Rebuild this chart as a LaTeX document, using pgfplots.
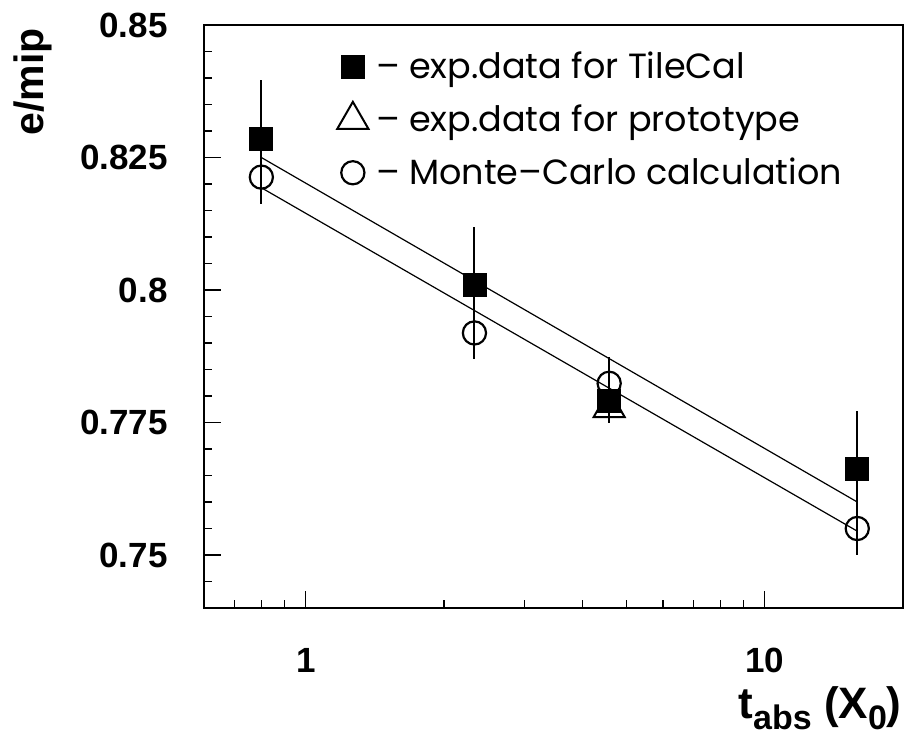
\documentclass[border=0pt]{standalone}
\usepackage{fontspec}
\setmainfont{Liberation Sans}
\newfontfamily\legfont{Poppins}
\usepackage{pgfplots}
\pgfplotsset{compat=1.18}

\begin{document}
\begin{tikzpicture}
\begin{axis}[
    name=ax,
    xmode=log,
    width=349.5pt, height=291.5pt, scale only axis,
    xmin=0.6, xmax=20, ymin=0.74, ymax=0.85,
    xtick={1,10}, xticklabels={1,10},
    minor xtick={0.7,0.8,0.9,2,3,4,5,6,7,8,9,20},
    ytick={0.75,0.775,0.8,0.825,0.85},
    yticklabels={0.75,0.775,0.8,0.825,0.85},
    minor ytick={0.745,0.755,0.76,0.765,0.77,0.78,0.785,0.79,0.795,0.805,0.81,0.815,0.82,0.83,0.835,0.84,0.845},
    tick pos=left, tick align=inside,
    major tick length=8.5pt, minor tick length=4pt,
    every tick/.style={black, line width=0.6pt},
    axis line style={line width=1.2pt},
    ticklabel style={font=\fontsize{17.5}{20}\selectfont\bfseries},
    yticklabel style={inner sep=0pt, xshift=-18pt},
    xticklabel style={anchor=base, inner sep=0pt, yshift=-32pt},
    ylabel={e/mip},
    ylabel style={at={(rel axis cs:-0.2303,0.995)}, anchor=base east, inner sep=0pt, font=\fontsize{20.5}{24}\selectfont\bfseries},
    xlabel={t\raisebox{-0.24em}{\fontsize{17}{17}\selectfont abs} (X\raisebox{-0.24em}{\fontsize{17}{17}\selectfont 0})},
    xlabel style={at={(rel axis cs:0.9986,-0.19)}, anchor=base east, inner sep=0pt, font=\fontsize{22}{24}\selectfont\bfseries},
    legend style={draw=none, fill=none, at={(0.1874,0.962)}, anchor=north west,
        inner sep=0pt, row sep=7.5pt, column sep=0pt,
        font=\legfont\fontsize{17.5}{20}\selectfont,
        nodes={inner sep=0pt, text height=12pt, text depth=3.5pt}},
    legend cell align=left,
    legend image code/.code={\path (0cm,-6pt) (0.6cm,11pt); \draw[#1] plot coordinates {(0.3cm,1.5pt)};},
]
% fitted lines
\addplot[black, line width=0.6pt, forget plot] coordinates {(0.8,0.825) (15.9,0.7600)};
\addplot[black, line width=0.6pt, forget plot] coordinates {(0.8,0.8193) (15.9,0.7545)};

% TileCal
\addplot[only marks, mark=square*, mark size=5.75pt, black,
    error bars/.cd, y dir=both, y explicit, error mark=none,
    error bar style={line width=1pt}]
    table[x=x, y=y, y error=e] {
x     y      e
0.8   0.8286 0.011
2.33  0.8009 0.011
4.58  0.7790 0.004
15.9  0.7662 0.011
};
\addlegendentry{\,– exp.data for TileCal}

% prototype
\addplot[only marks, mark=triangle, mark size=9pt, black, mark options={line width=1pt}]
    table[x=x, y=y] {
x     y
4.58  0.7777
};
\addlegendentry{\,– exp.data for prototype}

% Monte-Carlo
\addplot[only marks, mark=o, mark size=5.8pt, black, mark options={line width=1.1pt},
    error bars/.cd, y dir=both, y explicit, error mark=none,
    error bar style={line width=1pt}]
    table[x=x, y=y, y error=e] {
x     y      e
0.8   0.8213 0.005
2.33  0.7919 0.005
4.58  0.7824 0.005
15.9  0.7550 0.005
};
\addlegendentry{\,– Monte–Carlo calculation}
\end{axis}
\pgfresetboundingbox
\path[use as bounding box] ([shift={(-102pt,-66pt)}]ax.south west) rectangle ([shift={(0.5pt,12.5pt)}]ax.north east);
\end{tikzpicture}
\end{document}
